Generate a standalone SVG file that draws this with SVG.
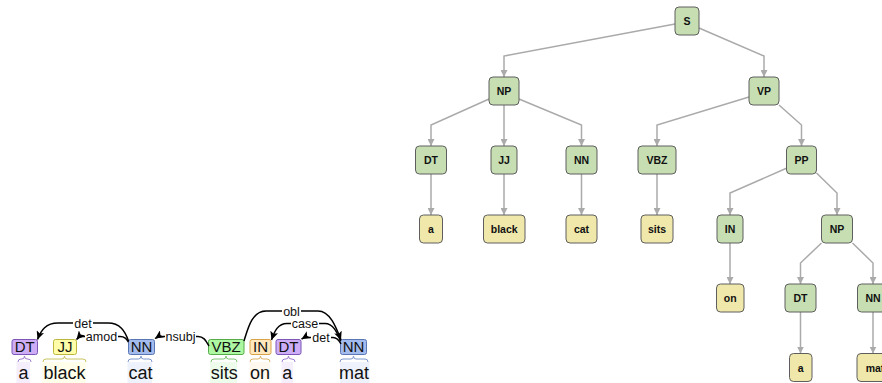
<svg xmlns="http://www.w3.org/2000/svg" width="882" height="383" viewBox="0 0 882 383">
  <style>
    .bg { fill: #ffffff; }
    .phr rect { fill: #c6deb2; stroke: #5e5e5e; stroke-width: 1; }
    .leaf rect { fill: #efe8aa; stroke: #5e5e5e; stroke-width: 1; }
    .tree text { font-family: "Liberation Sans", Arial, sans-serif; font-size: 10.5px; font-weight: bold; fill: #111; text-anchor: middle; }
    .edge { fill: none; stroke: #aaaaaa; stroke-width: 1.5; marker-end: url(#tri); }
    .tag text { font-family: "Liberation Sans", Arial, sans-serif; font-size: 15px; fill: #111; text-anchor: middle; }
    .word { font-family: "Liberation Sans", Arial, sans-serif; font-size: 18px; fill: #111; text-anchor: middle; }
    .arc { fill: none; stroke: #000; stroke-width: 1.5; }
    .arc.to { marker-end: url(#dep); }
    .lbl { font-family: "Liberation Sans", Arial, sans-serif; font-size: 12.5px; fill: #111; text-anchor: middle; }
    .brace { fill: none; stroke-width: 1; }
  </style>
  <defs>
    <marker id="tri" markerUnits="userSpaceOnUse" markerWidth="7" markerHeight="7" refX="7" refY="3.5" orient="auto">
      <path d="M0,0 L7,3.5 L0,7 z" fill="#aaaaaa"/>
    </marker>
    <marker id="dep" markerUnits="userSpaceOnUse" markerWidth="9" markerHeight="8" refX="8.5" refY="4" orient="auto">
      <path d="M0,0 L8.5,4 L0,8 L2,4 z" fill="#000"/>
    </marker>
  </defs>
  <rect class="bg" x="0" y="0" width="882" height="383"/>

  <!-- constituency tree: connectors -->
  <g id="tree-edges">
    <path class="edge" d="M675,24 L504,56 L504,77"/>
    <path class="edge" d="M699,28 L764,56 L764,77"/>
    <path class="edge" d="M489,99 L431,125 L431,146"/>
    <path class="edge" d="M504,105 L504,146"/>
    <path class="edge" d="M519,99 L581.5,125 L581.5,146"/>
    <path class="edge" d="M749,97 L657,125 L657,146"/>
    <path class="edge" d="M779,105 L801.5,125 L801.5,146"/>
    <path class="edge" d="M431,174 L431,215"/>
    <path class="edge" d="M504,174 L504,215"/>
    <path class="edge" d="M581.5,174 L581.5,215"/>
    <path class="edge" d="M657,174 L657,215"/>
    <path class="edge" d="M787,168 L730,193 L730,215"/>
    <path class="edge" d="M816.5,173 L837,193 L837,215"/>
    <path class="edge" d="M730,243 L730,284"/>
    <path class="edge" d="M821.5,243 L800.5,263 L800.5,284"/>
    <path class="edge" d="M852.5,243 L873,263 L873,284"/>
    <path class="edge" d="M800.5,312 L800.5,353.5"/>
    <path class="edge" d="M873,312 L873,353.5"/>
  </g>

  <!-- constituency tree: nodes -->
  <g class="tree">
    <g id="t-S" class="phr"><rect x="675" y="7" width="24" height="28" rx="4"/><text x="687" y="25">S</text></g>
    <g id="t-NP" class="phr"><rect x="489" y="77" width="30" height="28" rx="4"/><text x="504" y="95">NP</text></g>
    <g id="t-VP" class="phr"><rect x="749" y="77" width="30" height="28" rx="4"/><text x="764" y="95">VP</text></g>
    <g id="t-DT" class="phr"><rect x="415.5" y="146" width="31" height="28" rx="4"/><text x="431" y="164">DT</text></g>
    <g id="t-JJ" class="phr"><rect x="491" y="146" width="26" height="28" rx="4"/><text x="504" y="164">JJ</text></g>
    <g id="t-NN" class="phr"><rect x="566" y="146" width="31" height="28" rx="4"/><text x="581.5" y="164">NN</text></g>
    <g id="t-VBZ" class="phr"><rect x="638" y="146" width="38" height="28" rx="4"/><text x="657" y="164">VBZ</text></g>
    <g id="t-PP" class="phr"><rect x="786.5" y="146" width="30" height="28" rx="4"/><text x="801.5" y="164">PP</text></g>
    <g id="t-a" class="leaf"><rect x="419.5" y="215" width="23" height="28" rx="4"/><text x="431" y="233">a</text></g>
    <g id="t-black" class="leaf"><rect x="483.5" y="215" width="41.5" height="28" rx="4"/><text x="504.2" y="233">black</text></g>
    <g id="t-cat" class="leaf"><rect x="566" y="215" width="31" height="28" rx="4"/><text x="581.5" y="233">cat</text></g>
    <g id="t-sits" class="leaf"><rect x="641" y="215" width="32" height="28" rx="4"/><text x="657" y="233">sits</text></g>
    <g id="t-IN" class="phr"><rect x="717" y="215" width="26" height="28" rx="4"/><text x="730" y="233">IN</text></g>
    <g id="t-NP2" class="phr"><rect x="821.5" y="215" width="31" height="28" rx="4"/><text x="837" y="233">NP</text></g>
    <g id="t-on" class="leaf"><rect x="716.5" y="284" width="27.5" height="28" rx="4"/><text x="730.2" y="302">on</text></g>
    <g id="t-DT2" class="phr"><rect x="785" y="284" width="31" height="28" rx="4"/><text x="800.5" y="302">DT</text></g>
    <g id="t-NN2" class="phr"><rect x="857.5" y="284" width="31" height="28" rx="4"/><text x="873" y="302">NN</text></g>
    <g id="t-a2" class="leaf"><rect x="789.5" y="353.5" width="22.5" height="28" rx="4"/><text x="800.7" y="371.5">a</text></g>
    <g id="t-mat" class="leaf"><rect x="857" y="353.5" width="36" height="28" rx="4"/><text x="875" y="371.5">mat</text></g>
  </g>

  <!-- dependency view: word highlights -->
  <g id="word-bg">
    <rect x="16.5" y="362" width="13.5" height="22" fill="#f4eefd"/>
    <rect x="42" y="362" width="44" height="22" fill="#fffeea"/>
    <rect x="127.5" y="362" width="24.5" height="22" fill="#edf2fc"/>
    <rect x="210" y="362" width="27" height="22" fill="#eefcec"/>
    <rect x="249.5" y="362" width="20.5" height="22" fill="#fff8ee"/>
    <rect x="281.5" y="362" width="11.5" height="22" fill="#f4eefd"/>
    <rect x="340" y="362" width="29.5" height="22" fill="#edf2fc"/>
  </g>

  <!-- dependency view: braces under tags -->
  <g id="braces">
    <path class="brace" stroke="#a07fd0" d="M18,362 Q18,359 21,359 L22,359 Q24.5,359 24.5,356 Q24.5,359 27,359 L28,359 Q31,359 31,362"/>
    <path class="brace" stroke="#c8c460" d="M43,362 Q43,359 46,359 L62,359 Q64.5,359 64.5,356 Q64.5,359 67,359 L83,359 Q86,359 86,362"/>
    <path class="brace" stroke="#7f98cf" d="M128,362 Q128,359 131,359 L138.5,359 Q141,359 141,356 Q141,359 143.5,359 L149,359 Q152,359 152,362"/>
    <path class="brace" stroke="#7fc474" d="M211,362 Q211,359 214,359 L223.5,359 Q226,359 226,356 Q226,359 228.5,359 L234,359 Q237,359 237,362"/>
    <path class="brace" stroke="#dcb36a" d="M250,362 Q250,359 253,359 L258,359 Q260.5,359 260.5,356 Q260.5,359 263,359 L267,359 Q270,359 270,362"/>
    <path class="brace" stroke="#a07fd0" d="M282,362 Q282,359 285,359 L286,359 Q288.5,359 288.5,356 Q288.5,359 291,359 L292,359 Q295,359 295,362"/>
    <path class="brace" stroke="#7f98cf" d="M340,362 Q340,359 343,359 L351,359 Q353.5,359 353.5,356 Q353.5,359 356,359 L365,359 Q368,359 368,362"/>
  </g>

  <!-- dependency view: POS tags -->
  <g class="tag">
    <g id="d-DT"><rect x="12" y="339.5" width="25.5" height="15" rx="2" fill="#ccadf6" stroke="#7d56b8"/><text x="24.7" y="352.3">DT</text></g>
    <g id="d-JJ"><rect x="53.5" y="339.5" width="23" height="15" rx="2" fill="#fffda8" stroke="#bdb63e"/><text x="65" y="352.3">JJ</text></g>
    <g id="d-NN"><rect x="128.5" y="339.5" width="26" height="15" rx="2" fill="#a4bced" stroke="#5a77b5"/><text x="141.5" y="352.3">NN</text></g>
    <g id="d-VBZ"><rect x="208.5" y="339.5" width="35.5" height="15" rx="2" fill="#adf6a2" stroke="#55ac48"/><text x="226.2" y="352.3">VBZ</text></g>
    <g id="d-IN"><rect x="250" y="339.5" width="21" height="15" rx="2" fill="#ffe8be" stroke="#d9a34a"/><text x="260.5" y="352.3">IN</text></g>
    <g id="d-DT2"><rect x="276" y="339.5" width="25" height="15" rx="2" fill="#ccadf6" stroke="#7d56b8"/><text x="288.5" y="352.3">DT</text></g>
    <g id="d-NN2"><rect x="340.5" y="339.5" width="26" height="15" rx="2" fill="#a4bced" stroke="#5a77b5"/><text x="353.5" y="352.3">NN</text></g>
  </g>

  <!-- dependency view: words -->
  <g id="words">
    <text class="word" x="23.5" y="379">a</text>
    <text class="word" x="64.5" y="379">black</text>
    <text class="word" x="140.5" y="379">cat</text>
    <text class="word" x="224.3" y="379">sits</text>
    <text class="word" x="260" y="379">on</text>
    <text class="word" x="287.2" y="379">a</text>
    <text class="word" x="354" y="379">mat</text>
  </g>

  <!-- dependency arcs -->
  <g id="dep-arcs">
    <path class="arc to" d="M73,323 L58,323 C46,323 41,330 37.5,339.5"/>
    <path class="arc" d="M93,323 L108,323 C120,323 125,331 128.5,341"/>
    <path class="arc to" d="M85,336.5 L83,336.5 Q79,336.5 76.5,339.5"/>
    <path class="arc" d="M118,336.5 L120,336.5 C125,336.5 126.5,339 128.5,342"/>
    <path class="arc to" d="M165,336.5 L163,336.5 Q158,336.5 155,338.5"/>
    <path class="arc" d="M196,336.5 L198,336.5 C204,336.5 206,341 209,346"/>
    <path class="arc" d="M282,311 L266,311 C252,311 248,328 244,341"/>
    <path class="arc to" d="M301,311 L318,311 C330,311 336,327 341,340"/>
    <path class="arc to" d="M291,323.5 L287,323.5 C278,323.5 274.5,331 271.5,340"/>
    <path class="arc" d="M319,323.5 L325,323.5 C333,323.5 337,332 340.5,341"/>
    <path class="arc to" d="M311,337.5 L308,337.5 Q304,337.5 301.5,339"/>
    <path class="arc" d="M331,337.5 L333,337.5 C337,337.5 339,340 341,344"/>
  </g>

  <!-- dependency labels -->
  <g id="dep-labels">
    <text class="lbl" x="83" y="327.5">det</text>
    <text class="lbl" x="101.5" y="341">amod</text>
    <text class="lbl" x="180.5" y="341">nsubj</text>
    <text class="lbl" x="291.5" y="315.5">obl</text>
    <text class="lbl" x="305" y="328">case</text>
    <text class="lbl" x="321" y="342">det</text>
  </g>
</svg>
